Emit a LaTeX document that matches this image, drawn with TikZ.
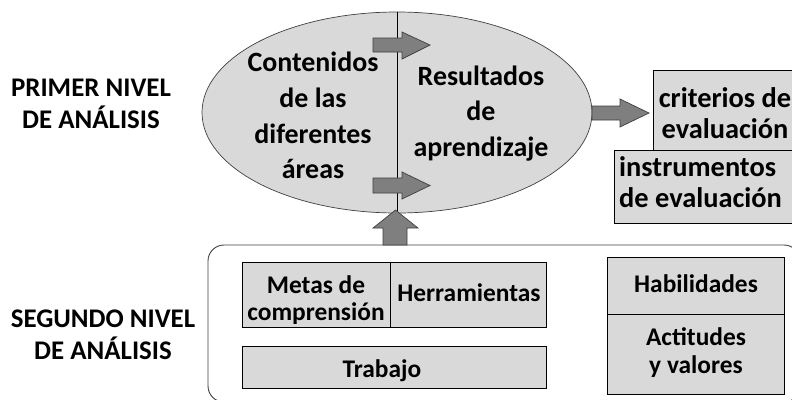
\documentclass[tikz,border=0pt]{standalone}
\usepackage{fontspec}
\setmainfont{Carlito}
\usetikzlibrary{shapes.geometric}
\definecolor{boxfill}{HTML}{D9D9D9}
\definecolor{arrfill}{HTML}{7F7F7F}
\definecolor{arrline}{HTML}{3F3F3F}
\definecolor{edgegray}{HTML}{404040}
\tikzset{
  txt/.style={inner sep=0pt, align=center, text=black},
  bigtxt/.style={txt, font=\bfseries\fontsize{28}{35.8}\selectfont},
  boxtxtB/.style={txt, font=\bfseries\fontsize{28.5}{31}\selectfont},
  lbltxt/.style={txt, font=\bfseries\fontsize{27}{32}\selectfont},
  smalltxt/.style={txt, font=\bfseries\fontsize{25.5}{27.5}\selectfont},
  graybox/.style={draw=black, line width=0.9bp, fill=boxfill},
  blockarrow/.style={fill=arrfill, draw=arrline, line width=0.7bp},
}
\begin{document}
\begin{tikzpicture}[x=1bp,y=-1bp]
\useasboundingbox (0,0) rectangle (792,399);

% first level: ellipse
\node[ellipse, draw=edgegray, line width=0.7bp, fill=boxfill, minimum width=390bp, minimum height=201bp, inner sep=0pt] (ell) at (397,112.5) {};
\draw[black, line width=0.8bp] (ell.north) -- (ell.south);

\node[bigtxt] (cont) at (313,115.5) {Contenidos\\de las\\diferentes\\áreas};
\node[bigtxt] (res) at (481,113.5) {Resultados\\de\\aprendizaje};

% small arrows inside ellipse
\filldraw[blockarrow] (373,38) -- (402,38) -- (402,32) -- (430,45) -- (402,59) -- (402,52) -- (373,52) -- cycle;
\filldraw[blockarrow] (373,178) -- (402,178) -- (402,172) -- (430,185.5) -- (402,199) -- (402,193) -- (373,193) -- cycle;

% arrow to criteria
\filldraw[blockarrow] (592,106) -- (620,106) -- (620,99) -- (649,113) -- (620,127) -- (620,120) -- (592,120) -- cycle;

% criteria boxes
\node[graybox, minimum width=147bp, minimum height=80bp, inner sep=0pt] (crit) at (726.5,110) {};
\node[boxtxtB] (critt) at (725,113.5) {criterios de\\evaluación};
\node[graybox, minimum width=186bp, minimum height=73bp, inner sep=0pt] (inst) at (707,186.5) {};
\node[boxtxtB, align=left, anchor=west] (instt) at (619,182) {instrumentos\\de evaluación};

% second level frame
\draw[edgegray, line width=0.9bp, rounded corners=16bp] (208,245) rectangle (800,402);

% up arrow
\filldraw[blockarrow] (383,245) -- (383,228) -- (373,228) -- (395.5,210) -- (418,228) -- (407,228) -- (407,245) -- cycle;

% inner boxes
\node[graybox, minimum width=148bp, minimum height=65bp, inner sep=0pt] (metas) at (316,294.5) {};
\node[graybox, minimum width=156bp, minimum height=65bp, inner sep=0pt] (herr) at (468,294.5) {};
\node[graybox, minimum width=304bp, minimum height=42bp, inner sep=0pt] (trab) at (394,367) {};
\node[graybox, minimum width=177bp, minimum height=57bp, inner sep=0pt] (hab) at (695.5,285.5) {};
\node[graybox, minimum width=177bp, minimum height=80bp, inner sep=0pt] (act) at (695.5,354) {};

\node[smalltxt] (metast) at (316,300.2) {Metas de\\comprensión};
\node[smalltxt] (herrt) at (469,293) {Herramientas};
\node[smalltxt] (trabt) at (382,370.7) {Trabajo};
\node[smalltxt] (habt) at (696,284) {Habilidades};
\node[smalltxt] (actt) at (696,352.7) {Actitudes\\y valores};

% level labels
\node[lbltxt] (l1) at (91,104) {PRIMER NIVEL\\DE ANÁLISIS};
\node[lbltxt] (l2) at (103,335) {SEGUNDO NIVEL\\DE ANÁLISIS};
\end{tikzpicture}
\end{document}
